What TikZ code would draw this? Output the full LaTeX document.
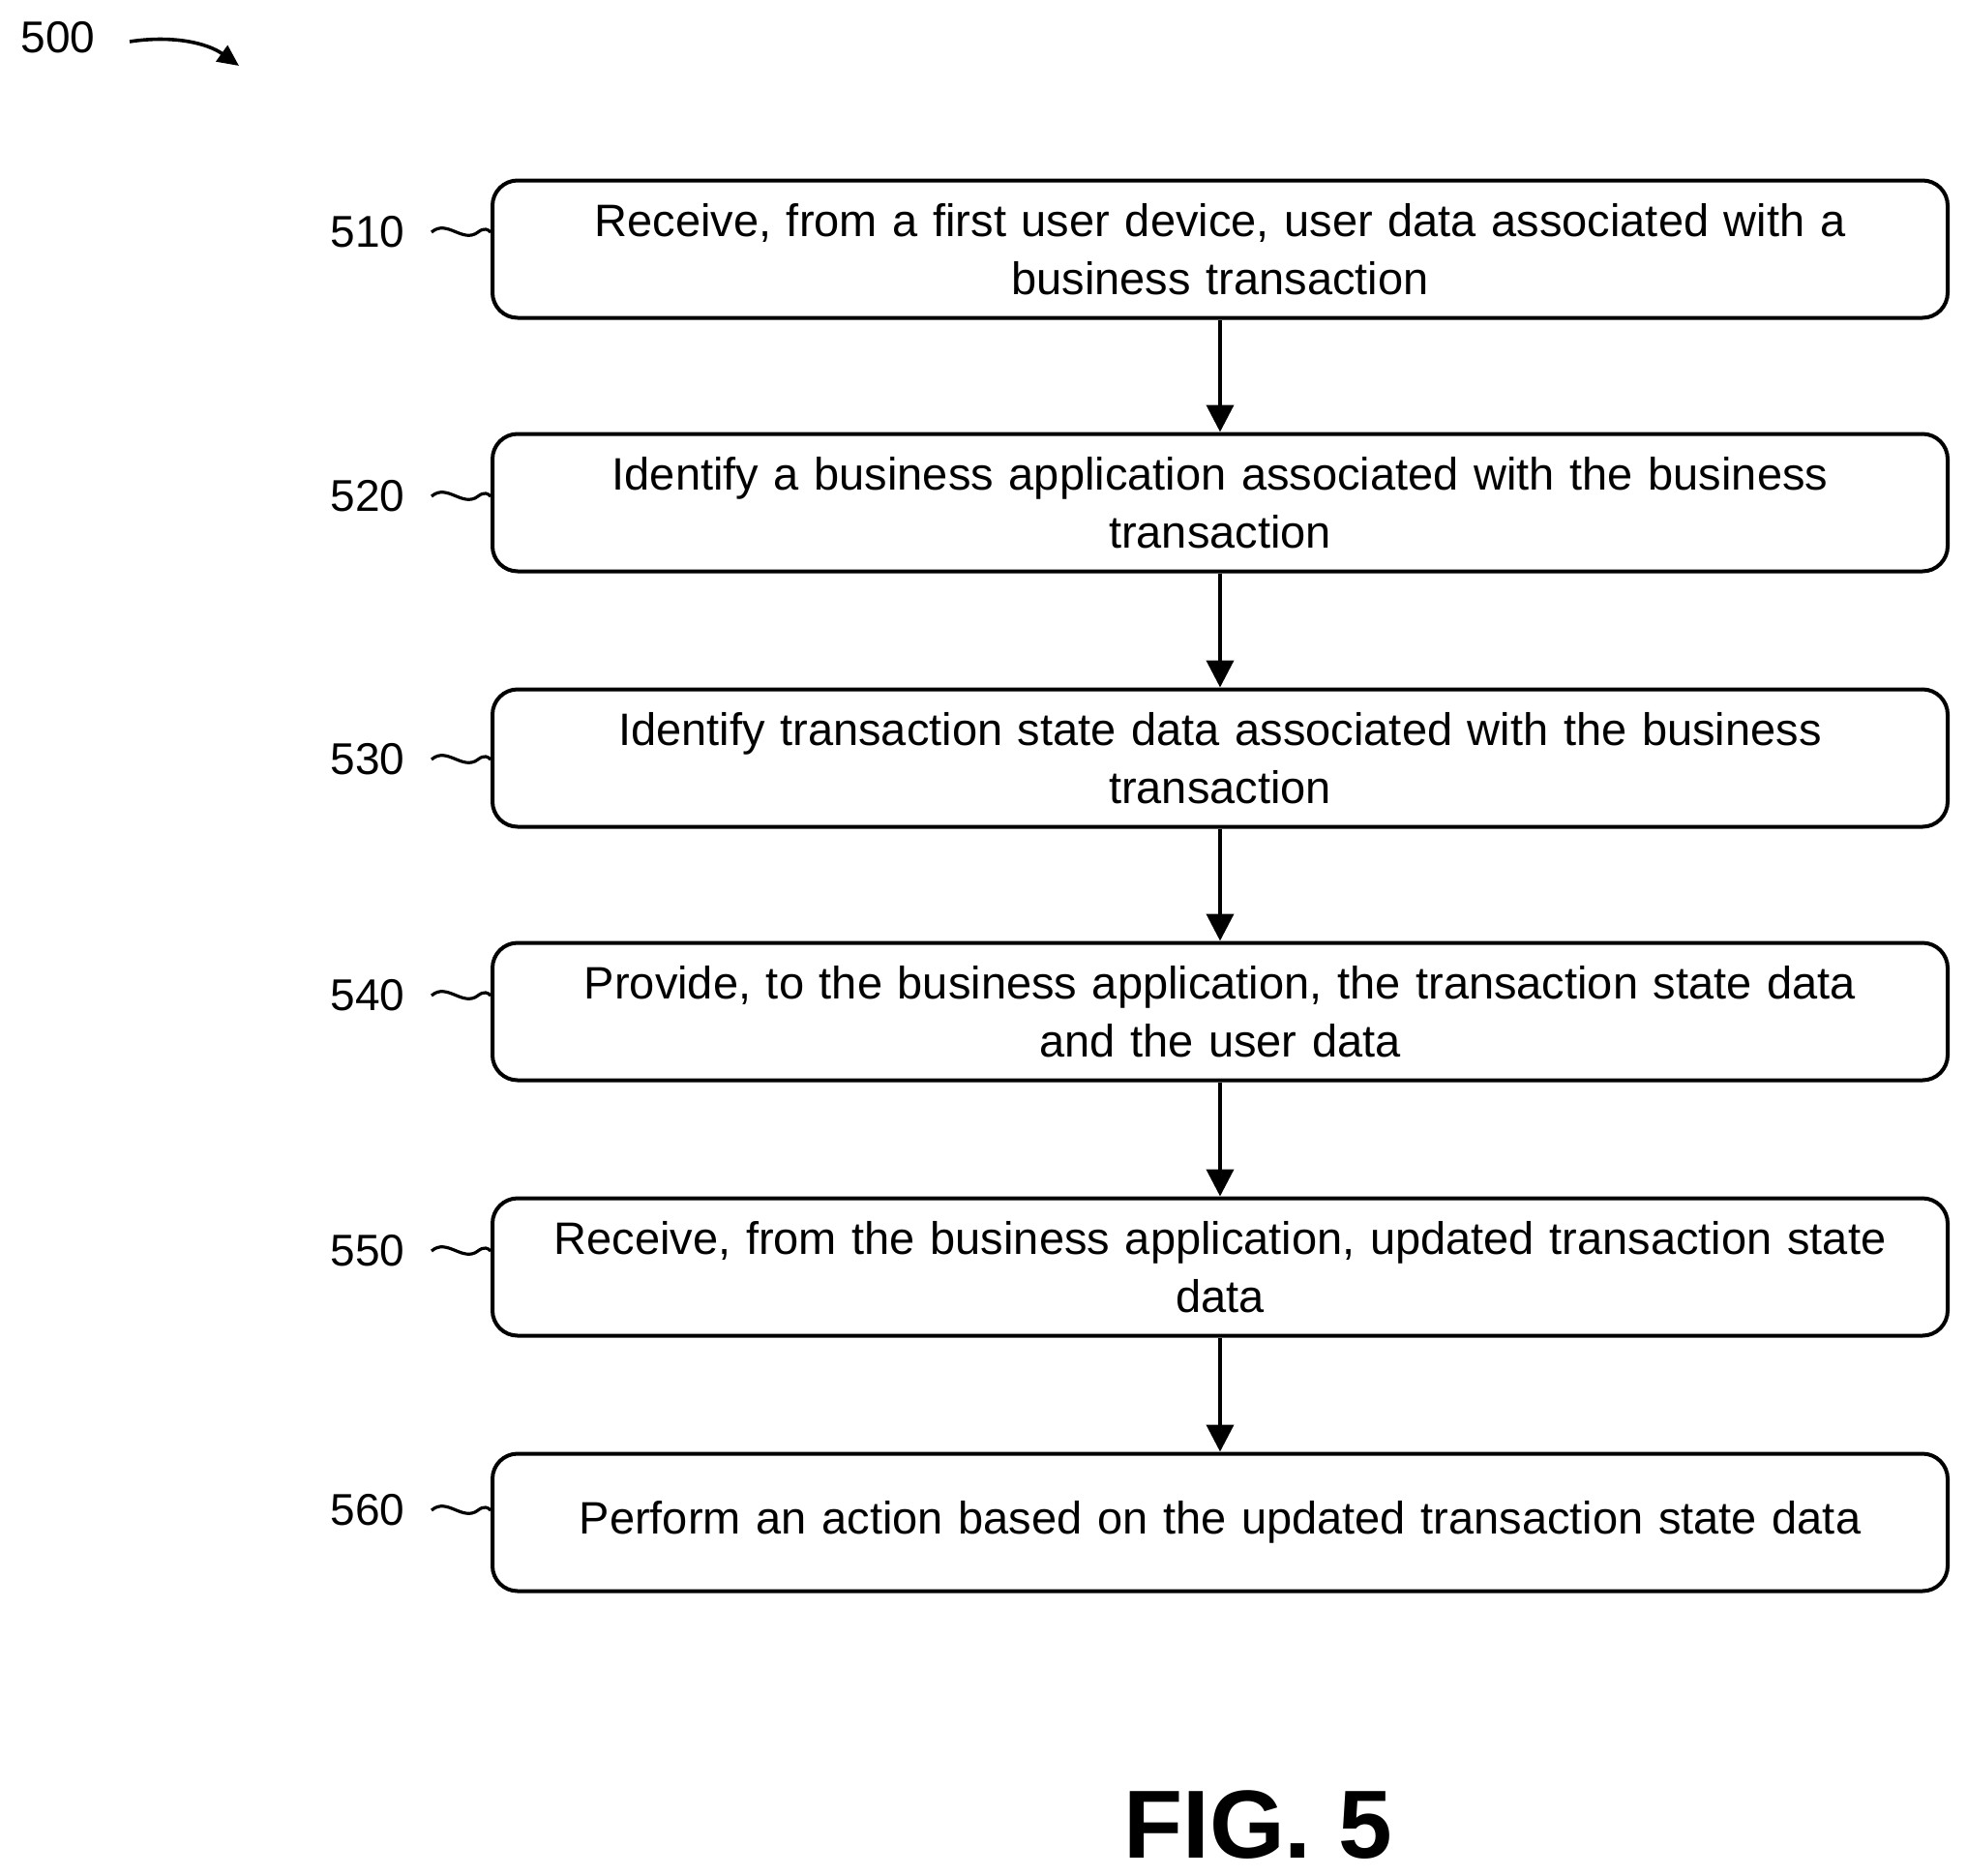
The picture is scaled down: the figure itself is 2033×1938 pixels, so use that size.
\documentclass[tikz,border=0pt]{standalone}
\usepackage{fontspec}
\setmainfont{Liberation Sans}
\usetikzlibrary{arrows.meta}
\begin{document}
\begin{tikzpicture}[x=0.5pt,y=-0.5pt,
  box/.style={draw,line width=2pt,rounded corners=13pt,minimum width=752pt,minimum height=71pt,text width=745pt,align=center,font=\fontsize{23.5}{30}\selectfont,inner sep=0pt},
  lab/.style={font=\fontsize{23}{27}\selectfont},
  arr/.style={-{Triangle[length=14pt,width=14pt]},line width=2pt},
  sq/.style={line width=1.6pt}]
\useasboundingbox (0,0) rectangle (2033,1938);
\node[lab] (n500) at (60,39) {500};
\coordinate (a0) at (134,43);
\coordinate (a1) at (247,68);
\draw[line width=1.8pt,-{Triangle[length=11pt,width=10pt]}] (a0) .. controls (180,36) and (215,45) .. (a1);
\foreach \n/\y/\ya/\t in {510/257.5/240/{Receive, from a first user device, user data associated with a\\ business transaction},
 520/519.5/513/{Identify a business application associated with the business\\ transaction},
 530/783.5/785/{Identify transaction state data associated with the business\\ transaction},
 540/1045.5/1029/{Provide, to the business application, the transaction state data\\ and the user data},
 550/1309.5/1293/{Receive, from the business application, updated transaction state\\ data},
 560/1573.5/1561/{Perform an action based on the updated transaction state data}}{
  \node[box] (b\n) at (1261,\y) {\t};
  \node[lab] (l\n) at (380,\ya) {\n};
  \coordinate (s\n) at (446,\ya);
  \draw[sq] (s\n) .. controls (462,\ya-14) and (478,\ya+12) .. (494,\ya) .. controls (500,\ya-5) and (505,\ya-3) .. (b\n.west|-0,\ya);
}
\foreach \a/\b in {510/520,520/530,530/540,540/550,550/560}{
  \draw[arr] (b\a.south) -- (b\b.north);
}
\node[font=\bfseries\fontsize{50}{60}\selectfont] (fig) at (1300,1886) {FIG. 5};
\end{tikzpicture}
\end{document}
